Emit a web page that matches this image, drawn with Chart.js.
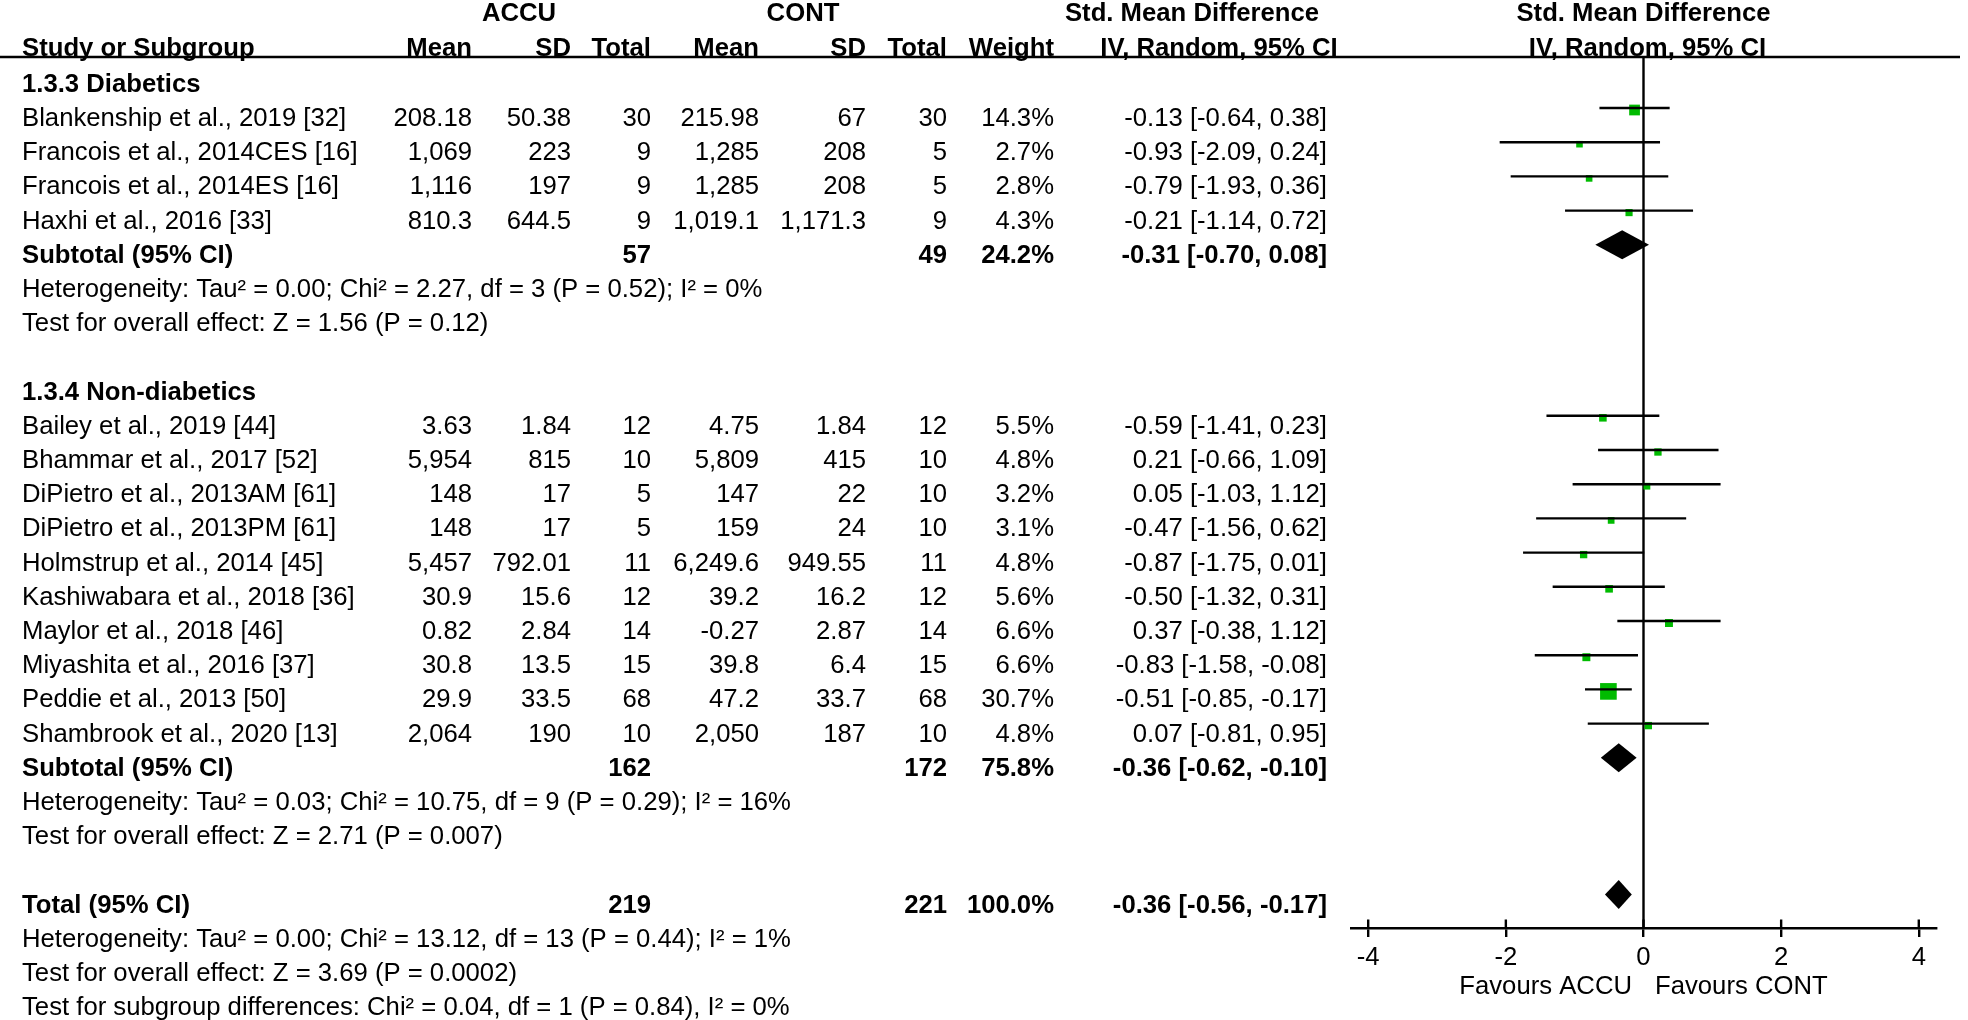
<!DOCTYPE html>
<html>
<head>
<meta charset="utf-8">
<script src="https://cdn.jsdelivr.net/npm/chart.js@4.4.1/dist/chart.umd.min.js"></script>
<style>
  html, body { margin: 0; padding: 0; background: #fff; }
  #wrap { width: 1968px; height: 1020px; }
</style>
</head>
<body>
<div id="wrap"><canvas id="forest" width="1968" height="1020"></canvas></div>
<script>
// ---- data ----
const studyNames = ['Blankenship et al., 2019 [32]', 'Francois et al., 2014CES [16]', 'Francois et al., 2014ES [16]', 'Haxhi et al., 2016 [33]',
  'Bailey et al., 2019 [44]', 'Bhammar et al., 2017 [52]', 'DiPietro et al., 2013AM [61]', 'DiPietro et al., 2013PM [61]',
  'Holmstrup et al., 2014 [45]', 'Kashiwabara et al., 2018 [36]', 'Maylor et al., 2018 [46]', 'Miyashita et al., 2016 [37]',
  'Peddie et al., 2013 [50]', 'Shambrook et al., 2020 [13]'];
const studyGroup = [0, 0, 0, 0, 1, 1, 1, 1, 1, 1, 1, 1, 1, 1];
const accuMean = ['208.18', '1,069', '1,116', '810.3', '3.63', '5,954', '148', '148', '5,457', '30.9', '0.82', '30.8', '29.9', '2,064'];
const accuSD = ['50.38', '223', '197', '644.5', '1.84', '815', '17', '17', '792.01', '15.6', '2.84', '13.5', '33.5', '190'];
const accuTotal = [30, 9, 9, 9, 12, 10, 5, 5, 11, 12, 14, 15, 68, 10];
const contMean = ['215.98', '1,285', '1,285', '1,019.1', '4.75', '5,809', '147', '159', '6,249.6', '39.2', '-0.27', '39.8', '47.2', '2,050'];
const contSD = ['67', '208', '208', '1,171.3', '1.84', '415', '22', '24', '949.55', '16.2', '2.87', '6.4', '33.7', '187'];
const contTotal = [30, 5, 5, 9, 12, 10, 10, 10, 11, 12, 14, 15, 68, 10];
const weight = [14.3, 2.7, 2.8, 4.3, 5.5, 4.8, 3.2, 3.1, 4.8, 5.6, 6.6, 6.6, 30.7, 4.8];
const smd = [-0.13, -0.93, -0.79, -0.21, -0.59, 0.21, 0.05, -0.47, -0.87, -0.50, 0.37, -0.83, -0.51, 0.07];
const ciLow = [-0.64, -2.09, -1.93, -1.14, -1.41, -0.66, -1.03, -1.56, -1.75, -1.32, -0.38, -1.58, -0.85, -0.81];
const ciHigh = [0.38, 0.24, 0.36, 0.72, 0.23, 1.09, 1.12, 0.62, 0.01, 0.31, 1.12, -0.08, -0.17, 0.95];

const subgroupNames = ['1.3.3 Diabetics', '1.3.4 Non-diabetics'];
const subAccuTotal = [57, 162];
const subContTotal = [49, 172];
const subWeight = [24.2, 75.8];
const subSmd = [-0.31, -0.36];
const subLow = [-0.70, -0.62];
const subHigh = [0.08, -0.10];
const subHeterogeneity = ['Heterogeneity: Tau² = 0.00; Chi² = 2.27, df = 3 (P = 0.52); I² = 0%',
  'Heterogeneity: Tau² = 0.03; Chi² = 10.75, df = 9 (P = 0.29); I² = 16%'];
const subOverall = ['Test for overall effect: Z = 1.56 (P = 0.12)', 'Test for overall effect: Z = 2.71 (P = 0.007)'];

const totalAccu = 219;
const totalCont = 221;
const totalWeight = 100.0;
const totalSmd = -0.36;
const totalLow = -0.56;
const totalHigh = -0.17;
const totalNotes = ['Heterogeneity: Tau² = 0.00; Chi² = 13.12, df = 13 (P = 0.44); I² = 1%',
  'Test for overall effect: Z = 3.69 (P = 0.0002)',
  'Test for subgroup differences: Chi² = 0.04, df = 1 (P = 0.84), I² = 0%'];

const xTickValues = [-4, -2, 0, 2, 4];
const favourLabels = ['Favours ACCU', 'Favours CONT'];

// ---- layout ----
const FAMILY = '"Liberation Sans", Arial, sans-serif';
const FONT_PX = 25.7;
const ROW0 = 108, ROWH = 34.2, TOP = 57, AXIS_Y = 928;
const COL = { study: 22, accuMean: 472, accuSD: 571, accuN: 651, contMean: 759, contSD: 866, contN: 947, weight: 1054, ci: 1327 };
const GREEN = '#00bb00';

const fmtCI = (e, lo, hi) => e.toFixed(2) + ' [' + lo.toFixed(2) + ', ' + hi.toFixed(2) + ']';
const fmtW = w => w.toFixed(1) + '%';

// build the list of table rows
const rows = [];
let r = -1;
subgroupNames.forEach((name, g) => {
  rows.push({ row: r++, kind: 'group', name });
  studyNames.forEach((s, i) => {
    if (studyGroup[i] === g) rows.push({ row: r++, kind: 'study', i });
  });
  rows.push({ row: r++, kind: 'subtotal', g });
  rows.push({ row: r++, kind: 'note', text: subHeterogeneity[g] });
  rows.push({ row: r++, kind: 'note', text: subOverall[g] });
  r++;
});
rows.push({ row: r++, kind: 'total' });
totalNotes.forEach(t => rows.push({ row: r++, kind: 'note', text: t }));

const studyRow = {};
rows.filter(o => o.kind === 'study').forEach(o => { studyRow[o.i] = o.row; });
const diamonds = [];
rows.forEach(o => {
  if (o.kind === 'subtotal') diamonds.push({ row: o.row, e: subSmd[o.g], lo: subLow[o.g], hi: subHigh[o.g] });
  if (o.kind === 'total') diamonds.push({ row: o.row, e: totalSmd, lo: totalLow, hi: totalHigh });
});

// datasets: one CI line per study, then the weighted squares
const ciSets = studyNames.map((s, i) => ({
  type: 'line',
  data: [{ x: ciLow[i], y: studyRow[i] }, { x: ciHigh[i], y: studyRow[i] }],
  borderColor: '#000', borderWidth: 2.4, pointRadius: 0, fill: false
}));
const squareSet = {
  type: 'scatter',
  data: studyNames.map((s, i) => ({ x: smd[i], y: studyRow[i] + 2 / ROWH })),
  pointStyle: 'rect',
  pointRadius: weight.map(w => (5.6 + 0.36 * w) / Math.SQRT2),
  backgroundColor: GREEN, borderWidth: 0
};

function text(ctx, s, x, y, align, bold) {
  ctx.font = (bold ? 'bold ' : '') + FONT_PX + 'px ' + FAMILY;
  ctx.textAlign = align;
  ctx.textBaseline = 'alphabetic';
  ctx.fillStyle = '#000';
  ctx.fillText(s, x, y);
}

const forestPlugin = {
  id: 'forest',
  beforeDatasetsDraw(chart) {
    const { ctx, chartArea, scales } = chart;
    const x0 = scales.x.getPixelForValue(0);
    ctx.save();
    ctx.strokeStyle = '#000';
    ctx.lineWidth = 2.4;
    ctx.beginPath();
    ctx.moveTo(0, chartArea.top);
    ctx.lineTo(1960, chartArea.top);
    ctx.moveTo(x0, chartArea.top);
    ctx.lineTo(x0, chartArea.bottom);
    ctx.stroke();
    ctx.restore();
  },
  afterDatasetsDraw(chart) {
    const { ctx, chartArea, scales } = chart;
    const xs = scales.x, ys = scales.y;
    const base = row => ys.getPixelForValue(row) + (row < -1 ? 16 : 18);
    ctx.save();
    // diamonds
    ctx.fillStyle = '#000';
    diamonds.forEach(d => {
      const yc = ys.getPixelForValue(d.row);
      ctx.beginPath();
      ctx.moveTo(xs.getPixelForValue(d.lo), yc);
      ctx.lineTo(xs.getPixelForValue(d.e), yc - 14.5);
      ctx.lineTo(xs.getPixelForValue(d.hi), yc);
      ctx.lineTo(xs.getPixelForValue(d.e), yc + 14.5);
      ctx.closePath();
      ctx.fill();
    });
    // upper half of the axis ticks
    ctx.strokeStyle = '#000';
    ctx.lineWidth = 2.4;
    ctx.beginPath();
    xTickValues.forEach(v => {
      const px = xs.getPixelForValue(v);
      ctx.moveTo(px, chartArea.bottom - 8.5);
      ctx.lineTo(px, chartArea.bottom);
    });
    ctx.stroke();

    // headers
    const x0 = xs.getPixelForValue(0);
    let y = base(-3);
    text(ctx, 'ACCU', 519, y, 'center', true);
    text(ctx, 'CONT', 803, y, 'center', true);
    text(ctx, 'Std. Mean Difference', 1192, y, 'center', true);
    text(ctx, 'Std. Mean Difference', x0, y, 'center', true);
    y = base(-2);
    text(ctx, 'Study or Subgroup', COL.study, y, 'left', true);
    text(ctx, 'Mean', COL.accuMean, y, 'right', true);
    text(ctx, 'SD', COL.accuSD, y, 'right', true);
    text(ctx, 'Total', COL.accuN, y, 'right', true);
    text(ctx, 'Mean', COL.contMean, y, 'right', true);
    text(ctx, 'SD', COL.contSD, y, 'right', true);
    text(ctx, 'Total', COL.contN, y, 'right', true);
    text(ctx, 'Weight', COL.weight, y, 'right', true);
    text(ctx, 'IV, Random, 95% CI', 1219, y, 'center', true);
    text(ctx, 'IV, Random, 95% CI', x0 + 4, y, 'center', true);

    // table body
    rows.forEach(o => {
      const yy = base(o.row);
      if (o.kind === 'group') {
        text(ctx, o.name, COL.study, yy, 'left', true);
      } else if (o.kind === 'study') {
        const i = o.i;
        text(ctx, studyNames[i], COL.study, yy, 'left', false);
        text(ctx, accuMean[i], COL.accuMean, yy, 'right', false);
        text(ctx, accuSD[i], COL.accuSD, yy, 'right', false);
        text(ctx, String(accuTotal[i]), COL.accuN, yy, 'right', false);
        text(ctx, contMean[i], COL.contMean, yy, 'right', false);
        text(ctx, contSD[i], COL.contSD, yy, 'right', false);
        text(ctx, String(contTotal[i]), COL.contN, yy, 'right', false);
        text(ctx, fmtW(weight[i]), COL.weight, yy, 'right', false);
        text(ctx, fmtCI(smd[i], ciLow[i], ciHigh[i]), COL.ci, yy, 'right', false);
      } else if (o.kind === 'subtotal') {
        const g = o.g;
        text(ctx, 'Subtotal (95% CI)', COL.study, yy, 'left', true);
        text(ctx, String(subAccuTotal[g]), COL.accuN, yy, 'right', true);
        text(ctx, String(subContTotal[g]), COL.contN, yy, 'right', true);
        text(ctx, fmtW(subWeight[g]), COL.weight, yy, 'right', true);
        text(ctx, fmtCI(subSmd[g], subLow[g], subHigh[g]), COL.ci, yy, 'right', true);
      } else if (o.kind === 'total') {
        text(ctx, 'Total (95% CI)', COL.study, yy, 'left', true);
        text(ctx, String(totalAccu), COL.accuN, yy, 'right', true);
        text(ctx, String(totalCont), COL.contN, yy, 'right', true);
        text(ctx, fmtW(totalWeight), COL.weight, yy, 'right', true);
        text(ctx, fmtCI(totalSmd, totalLow, totalHigh), COL.ci, yy, 'right', true);
      } else {
        text(ctx, o.text, COL.study, yy, 'left', false);
      }
    });

    // favours labels under the axis
    text(ctx, favourLabels[0], x0 - 11.5, 994, 'right', false);
    text(ctx, favourLabels[1], x0 + 11.5, 994, 'left', false);
    ctx.restore();
  }
};

new Chart(document.getElementById('forest'), {
  type: 'scatter',
  data: { datasets: [...ciSets, squareSet] },
  options: {
    responsive: false,
    animation: false,
    events: [],
    layout: { padding: { left: 1351, right: 32, top: TOP, bottom: 0 } },
    plugins: { legend: { display: false }, tooltip: { enabled: false } },
    scales: {
      x: {
        type: 'linear', min: -4.25, max: 4.25, position: 'bottom',
        afterBuildTicks: s => { s.ticks = xTickValues.map(v => ({ value: v })); },
        afterFit: s => { s.height = 1020 - AXIS_Y; },
        ticks: { color: '#000', font: { family: FAMILY, size: FONT_PX }, padding: 5, maxRotation: 0, autoSkip: false },
        grid: { drawOnChartArea: false, drawTicks: true, tickLength: 9, color: '#000', lineWidth: 2.4 },
        border: { display: true, color: '#000', width: 2.4 }
      },
      y: {
        type: 'linear', display: false, reverse: true,
        min: (TOP - ROW0) / ROWH, max: (AXIS_Y - ROW0) / ROWH
      }
    }
  },
  plugins: [forestPlugin]
});
</script>
</body>
</html>
